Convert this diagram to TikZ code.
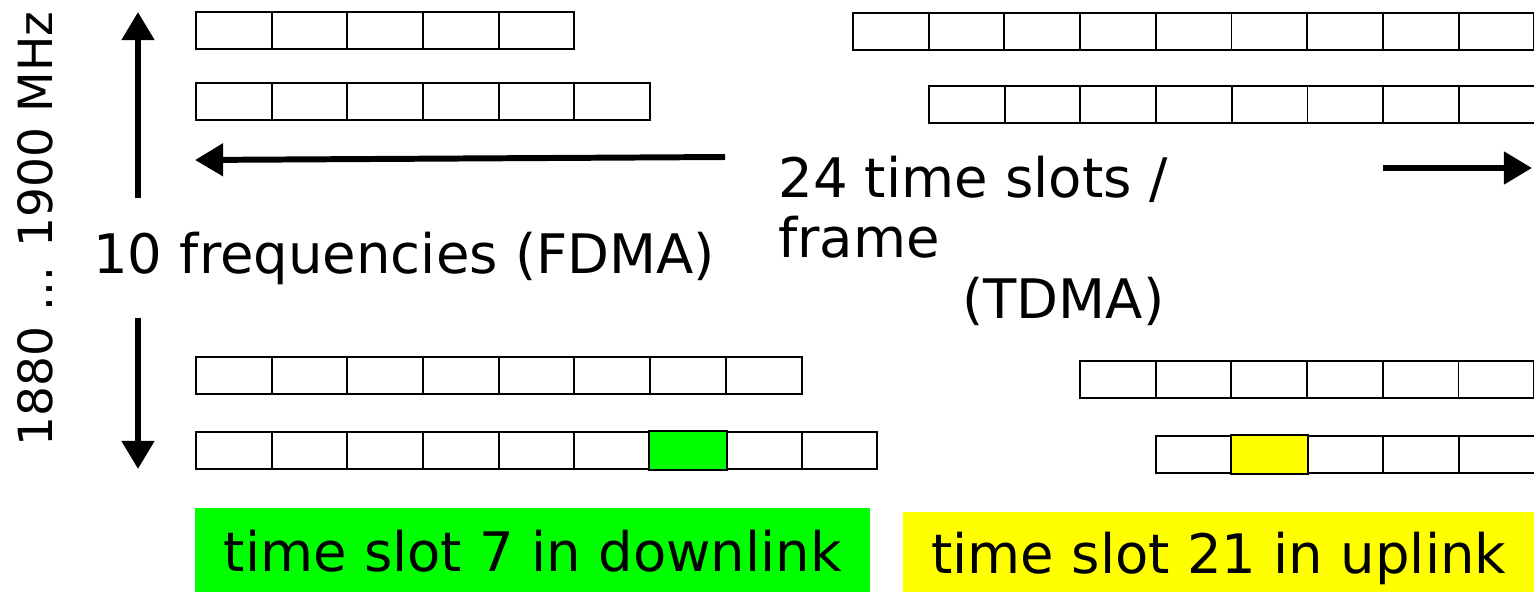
\documentclass[tikz,border=0pt]{standalone}
\usepackage{fontspec}
\setmainfont{DejaVu Sans}
\usepackage{xcolor}
\usetikzlibrary{arrows.meta}

\definecolor{dlgreen}{RGB}{0,255,0}
\definecolor{ulyellow}{RGB}{255,255,0}

\tikzset{
  slot/.style={rectangle, draw=black, line width=1.1pt, inner sep=0pt,
    minimum width=1.514cm, minimum height=0.74cm, anchor=north west},
  axis/.style={line width=3.4pt, -{Triangle[length=16pt, width=18pt]}},
  big/.style={font=\fontsize{31}{36}\selectfont, inner sep=0pt},
  note/.style={font=\fontsize{31}{36}\selectfont, inner sep=0pt,
    anchor=north west, text depth=0pt},
}

\begin{document}
\begin{tikzpicture}[x=0.02cm, y=-0.02cm]
  \useasboundingbox (0,0) rectangle (1534,592);

  \foreach \r/\y/\n in {1/11/5, 2/82/6, 3/356/8, 4/431/9}
    \foreach \i in {1,...,\n}
      \node[slot] (dl-\r-\i) at ({195+(\i-1)*75.7}, \y) {};
  \foreach \r/\x/\y/\n in {1/852/12/9, 2/928/85/8, 3/1079/360/6, 4/1155/435/5}
    \foreach \i in {1,...,\n}
      \node[slot] (ul-\r-\i) at ({\x+(\i-1)*75.7}, \y) {};

  \draw[line width=1.1pt, fill=dlgreen] (dl-4-7.north west) rectangle (dl-4-7.south east);
  \draw[line width=1.1pt, fill=ulyellow] (ul-4-2.north west) rectangle (ul-4-2.south east);

  \node[big, rotate=90, anchor=base west, font=\fontsize{26.8}{32}\selectfont] (band) at (52,447) {1880 ... 1900 MHz};
  \node[big, anchor=base west] (freq) at (93,273) {10 frequencies (FDMA)};
  \node[big, anchor=base west] (slots) at (778,197) {24 time slots /};
  \node[big, anchor=base west] (frame) at (778,257) {frame};
  \node[big, anchor=base west] (tdma) at (962,318) {(TDMA)};

  \coordinate (up-tail) at (138,198);
  \coordinate (up-tip) at (138,12);
  \coordinate (down-tail) at (138,318);
  \coordinate (down-tip) at (138,469);
  \coordinate (left-tail) at (725,157);
  \coordinate (left-tip) at (195,160);
  \coordinate (right-tail) at (1383,168);
  \coordinate (right-tip) at (1532,168);
  \draw[axis] (up-tail) -- (up-tip);
  \draw[axis] (down-tail) -- (down-tip);
  \draw[axis] (left-tail) -- (left-tip);
  \draw[axis] (right-tail) -- (right-tip);

  \node[note, fill=dlgreen, minimum width=13.5cm, minimum height=1.68cm] (dlnote) at (195,508) {time slot 7 in downlink};
  \node[note, fill=ulyellow, minimum width=12.62cm, minimum height=1.6cm] (ulnote) at (903,512) {time slot 21 in uplink};
\end{tikzpicture}
\end{document}
